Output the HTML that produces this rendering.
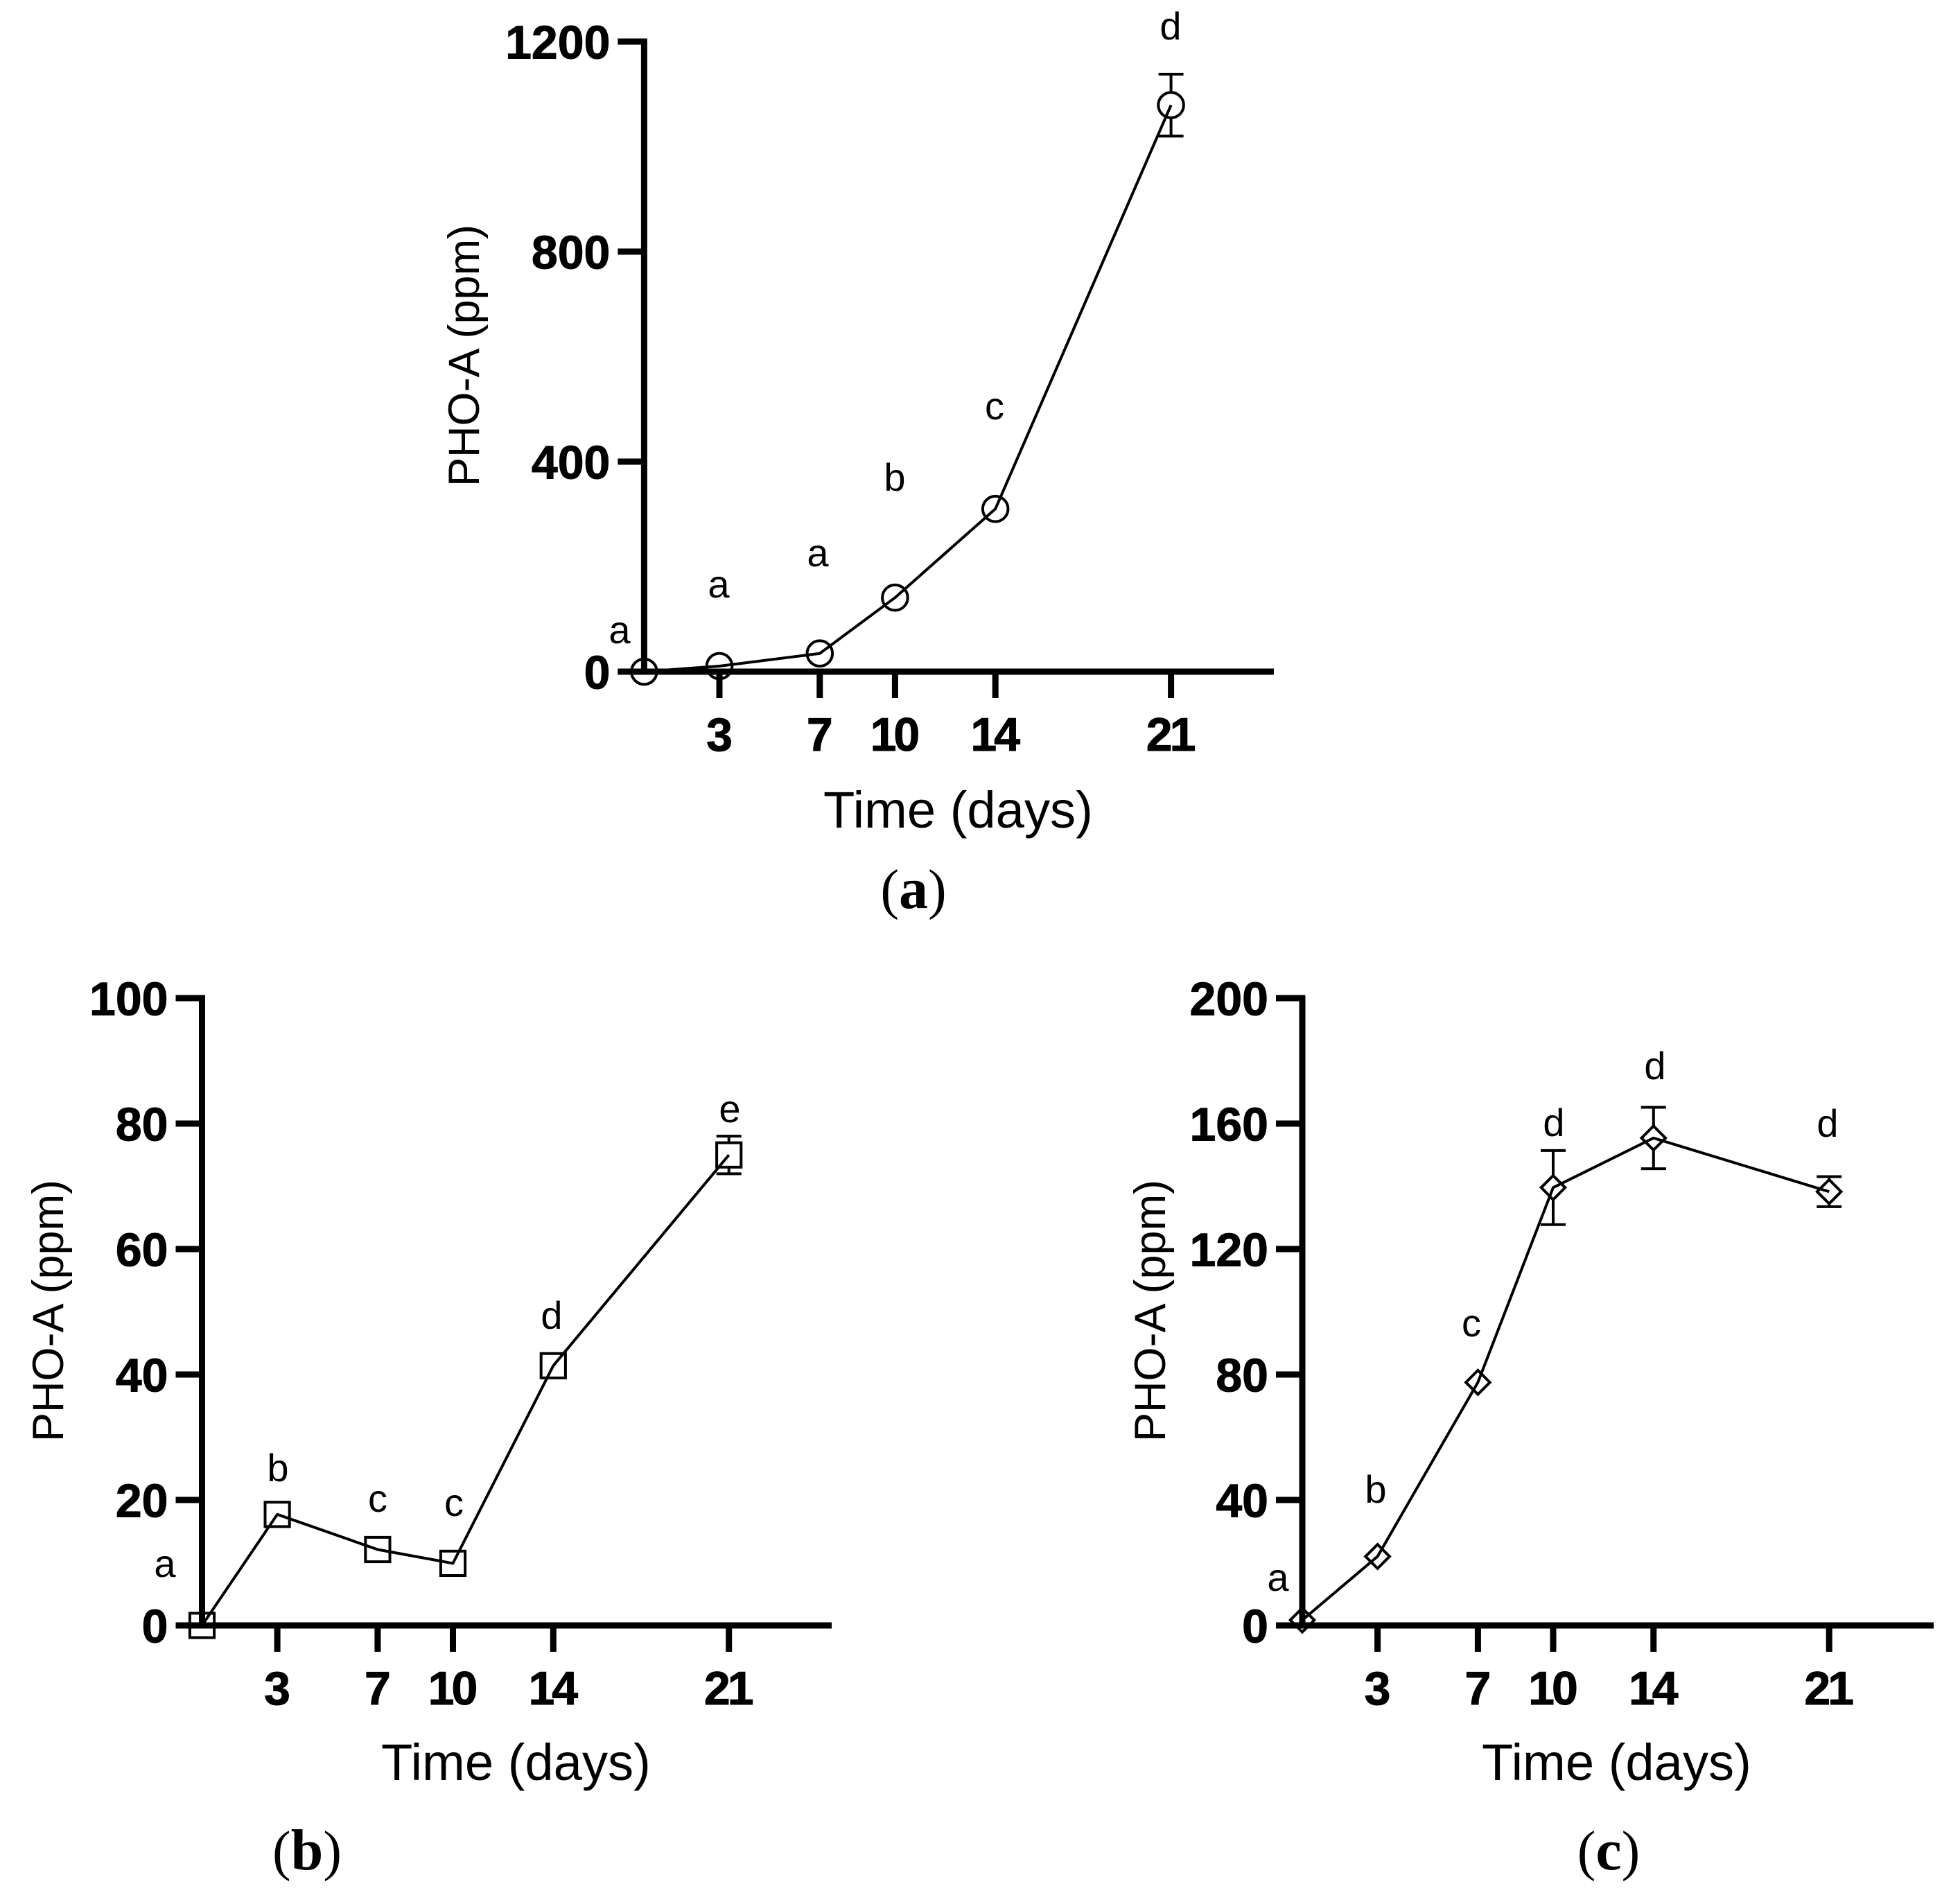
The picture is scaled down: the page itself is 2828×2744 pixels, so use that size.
<!DOCTYPE html>
<html lang="en">
<head>
<meta charset="utf-8">
<title>PHO-A over time</title>
<style>
html,body{margin:0;padding:0;background:#fff;}
svg{display:block;}
text{font-family:"Liberation Sans",Arial,sans-serif;fill:#000;}
.tick{font-size:68px;font-weight:700;stroke:#000;stroke-width:1px;}
.tick-x{letter-spacing:-4px;}
.title-x{font-size:74.2px;}
.title-y{font-size:63px;}
.sig{font-size:56px;text-anchor:middle;}
.cap{font-family:"Liberation Serif","Times New Roman",serif;font-size:80px;text-anchor:middle;}
.cap tspan{font-weight:700;font-size:84px;}
</style>
</head>
<body>
<svg id="figure" xmlns="http://www.w3.org/2000/svg" width="2828" height="2744" viewBox="0 0 2828 2744">
  <rect width="2828" height="2744" fill="#fff"/>
  <g id="panel-a"></g>
  <g id="panel-b"></g>
  <g id="panel-c"></g>

  <text class="title-x" x="1188" y="1194">Time (days)</text>
  <text class="title-x" x="550" y="2568">Time (days)</text>
  <text class="title-x" x="2138" y="2568">Time (days)</text>

  <text class="title-y" transform="translate(691 513) rotate(-90)" text-anchor="middle">PHO-A (ppm)</text>
  <text class="title-y" transform="translate(91 1891) rotate(-90)" text-anchor="middle">PHO-A (ppm)</text>
  <text class="title-y" transform="translate(1681 1891) rotate(-90)" text-anchor="middle">PHO-A (ppm)</text>

  <g>
    <text class="sig" x="894" y="928">a</text>
    <text class="sig" x="1037" y="862">a</text>
    <text class="sig" x="1180" y="817">a</text>
    <text class="sig" x="1291" y="708">b</text>
    <text class="sig" x="1435" y="605">c</text>
    <text class="sig" x="1689" y="57">d</text>
  </g>
  <g>
    <text class="sig" x="238" y="2275">a</text>
    <text class="sig" x="401" y="2137">b</text>
    <text class="sig" x="545" y="2181">c</text>
    <text class="sig" x="655" y="2187">c</text>
    <text class="sig" x="796" y="1917">d</text>
    <text class="sig" x="1053" y="1619">e</text>
  </g>
  <g>
    <text class="sig" x="1844" y="2295">a</text>
    <text class="sig" x="1985" y="2168">b</text>
    <text class="sig" x="2123" y="1928">c</text>
    <text class="sig" x="2242" y="1639">d</text>
    <text class="sig" x="2388" y="1557">d</text>
    <text class="sig" x="2637" y="1640">d</text>
  </g>

  <text class="cap" x="1318" y="1310">(<tspan>a</tspan>)</text>
  <text class="cap" x="443" y="2697">(<tspan>b</tspan>)</text>
  <text class="cap" x="2321" y="2697">(<tspan>c</tspan>)</text>
</svg>
<script>
const days = [0, 3, 7, 10, 14, 21];
const xTickDays = [3, 7, 10, 14, 21];

const panelAValues = [0, 10.6, 34.7, 141, 310, 1079];
const panelAErrors = [0, 0, 0, 0, 0, 59];
const panelATicks = [0, 400, 800, 1200];

const panelBValues = [0, 17.7, 12.1, 9.9, 41.4, 75];
const panelBErrors = [0, 0, 0, 0, 0, 3];
const panelBTicks = [0, 20, 40, 60, 80, 100];

const panelCValues = [1.7, 22, 77.5, 139.6, 155.4, 138.3];
const panelCErrors = [0, 0, 0, 11.8, 9.8, 4.8];
const panelCTicks = [0, 40, 80, 120, 160, 200];

const SVGNS = 'http://www.w3.org/2000/svg';

function make(parent, tag, attrs) {
  const el = document.createElementNS(SVGNS, tag);
  for (const k in attrs) el.setAttribute(k, attrs[k]);
  parent.appendChild(el);
  return el;
}

function drawPanel(cfg) {
  const root = document.getElementById(cfg.id);
  const pxPerDay = 36.2;
  const axisWidth = 9;
  const tickLen = 38;
  const maxTick = cfg.ticks[cfg.ticks.length - 1];
  const xScale = function (d) { return cfg.x0 + d * pxPerDay; };
  const yScale = function (v) { return cfg.y0 - v * (cfg.y0 - cfg.yTop) / maxTick; };

  // Error bars sit under the markers
  const errGroup = make(root, 'g', {});
  
  
  cfg.values.forEach(function (v, i) {
    const e = cfg.errors[i];
    if (!e) return;
    const x = xScale(days[i]);
    const bar = make(errGroup, 'path', {
      d: 'M' + (x - 18) + ' ' + yScale(v + e) + 'H' + (x + 18) +
         'M' + x + ' ' + yScale(v + e) + 'V' + yScale(v - e) +
         'M' + (x - 18) + ' ' + yScale(v - e) + 'H' + (x + 18),
      fill: 'none', stroke: '#000', 'stroke-width': 4
    });
    
    
  });

  // Markers
  const markGroup = make(root, 'g', {});
  
  
  cfg.values.forEach(function (v, i) {
    const x = xScale(days[i]);
    const y = yScale(v);
    const style = { fill: '#fff', stroke: '#000', 'stroke-width': 4 };
    let m;
    if (cfg.marker === 'circle') {
      m = make(markGroup, 'circle', Object.assign({ cx: x, cy: y, r: 18.3 }, style));
    } else if (cfg.marker === 'square') {
      m = make(markGroup, 'rect', Object.assign({ x: x - 17.6, y: y - 17.6, width: 35.2, height: 35.2 }, style));
    } else {
      const h = 17.3;
      m = make(markGroup, 'polygon', Object.assign({
        points: x + ',' + (y - h) + ' ' + (x + h) + ',' + y + ' ' + x + ',' + (y + h) + ' ' + (x - h) + ',' + y
      }, style));
    }
    
    
  });

  // Axes
  const axisGroup = make(root, 'g', {});
  
  
  const yAxis = make(axisGroup, 'line', {
    x1: cfg.x0, x2: cfg.x0, y1: cfg.yTop - axisWidth / 2, y2: cfg.y0 + axisWidth / 2,
    stroke: '#000', 'stroke-width': axisWidth
  });
  
  
  const xAxis = make(axisGroup, 'line', {
    x1: cfg.x0 - tickLen, x2: cfg.xEnd, y1: cfg.y0, y2: cfg.y0,
    stroke: '#000', 'stroke-width': axisWidth
  });
  
  

  cfg.ticks.forEach(function (t) {
    const y = yScale(t);
    const tick = make(axisGroup, 'line', {
      x1: cfg.x0 - tickLen, x2: cfg.x0, y1: y, y2: y,
      stroke: '#000', 'stroke-width': axisWidth
    });
    
    
    const label = make(axisGroup, 'text', {
      class: 'tick', x: cfg.x0 - 49, y: y + 24.5, 'text-anchor': 'end'
    });
    
    
    label.textContent = String(t);
  });

  xTickDays.forEach(function (d) {
    const x = xScale(d);
    const tick = make(axisGroup, 'line', {
      x1: x, x2: x, y1: cfg.y0, y2: cfg.y0 + tickLen,
      stroke: '#000', 'stroke-width': axisWidth
    });
    
    
    const label = make(axisGroup, 'text', {
      class: 'tick tick-x', x: x - 2, y: cfg.y0 + 114, 'text-anchor': 'middle'
    });
    
    
    label.textContent = String(d);
  });

  // Connecting line is on top of everything
  const pts = cfg.values.map(function (v, i) { return xScale(days[i]) + ',' + yScale(v); }).join(' ');
  const line = make(root, 'polyline', {
    points: pts, fill: 'none', stroke: '#000', 'stroke-width': 4, 'stroke-linejoin': 'round'
  });
  
  
}

drawPanel({ id: 'panel-a', x0: 929.4, y0: 969, yTop: 60, xEnd: 1838, marker: 'circle',
  values: panelAValues, errors: panelAErrors, ticks: panelATicks });
drawPanel({ id: 'panel-b', x0: 291.5, y0: 2345, yTop: 1440, xEnd: 1200, marker: 'square',
  values: panelBValues, errors: panelBErrors, ticks: panelBTicks });
drawPanel({ id: 'panel-c', x0: 1879, y0: 2345, yTop: 1440, xEnd: 2790, marker: 'diamond',
  values: panelCValues, errors: panelCErrors, ticks: panelCTicks });
</script>
</body>
</html>
